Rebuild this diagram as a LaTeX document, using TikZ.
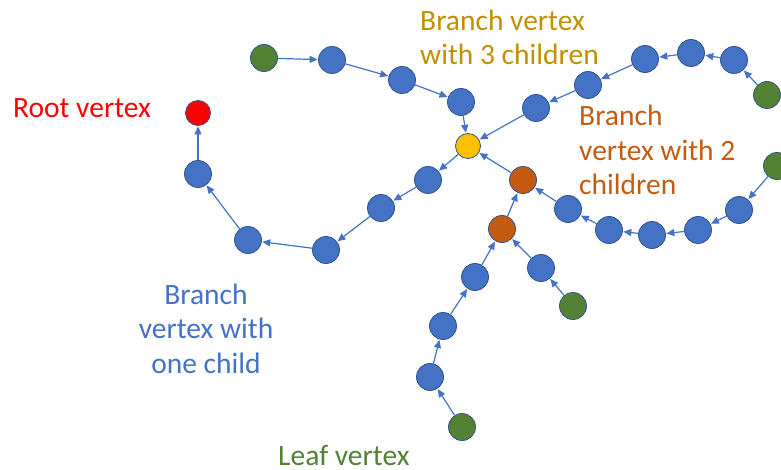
\documentclass[tikz,border=0pt]{standalone}
\usepackage{fontspec}
\setmainfont{Carlito}
\usetikzlibrary{arrows.meta}
\definecolor{vblue}{HTML}{4472C4}
\definecolor{vline}{HTML}{2F528F}
\definecolor{vgreen}{HTML}{548235}
\definecolor{vred}{HTML}{FF0000}
\definecolor{vyellow}{HTML}{FFC000}
\definecolor{vorange}{HTML}{C55A11}
\definecolor{vgold}{HTML}{BF9000}
\tikzset{
  vtx/.style={circle,draw=vline,line width=0.8pt,fill=vblue,minimum size=27pt,inner sep=0pt},
  leafv/.style={vtx,fill=vgreen},
  rootv/.style={vtx,fill=vred,minimum size=25pt},
  yelv/.style={vtx,fill=vyellow,minimum size=25pt},
  orav/.style={vtx,fill=vorange},
  edge/.style={draw=vblue,line width=1.2pt,-{Triangle[length=8pt,width=7pt]},shorten >=0.5pt},
  lbl/.style={font=\fontsize{29.5}{34.5}\selectfont,inner sep=0pt}
}
\begin{document}
\begin{tikzpicture}[x=1pt,y=-1pt]
\useasboundingbox (0,0) rectangle (781,470);
% nodes
\node[rootv] (root) at (198,113) {};
\node[vtx] (a1) at (198,174) {};
\node[vtx] (a2) at (248,240) {};
\node[vtx] (a3) at (326,250) {};
\node[vtx] (a4) at (381,208) {};
\node[vtx] (a5) at (428,180) {};
\node[yelv] (y) at (468,146) {};
\node[leafv] (l1) at (264,58) {};
\node[vtx] (t1) at (332,60) {};
\node[vtx] (t2) at (402,80) {};
\node[vtx] (t3) at (461,102) {};
\node[leafv] (l2) at (767,95) {};
\node[vtx] (r1) at (734,60) {};
\node[vtx] (r2) at (691,53) {};
\node[vtx] (r3) at (645,59) {};
\node[vtx] (r4) at (588,85) {};
\node[vtx] (r5) at (536,108) {};
\node[leafv] (l3) at (777,166) {};
\node[vtx] (s1) at (739,210) {};
\node[vtx] (s2) at (698,230) {};
\node[vtx] (s3) at (652,235) {};
\node[vtx] (s4) at (609,230) {};
\node[vtx] (s5) at (568,209) {};
\node[orav] (o1) at (523,180) {};
\node[orav] (o2) at (502,229) {};
\node[leafv] (l4) at (462,427) {};
\node[vtx] (b1) at (430,377) {};
\node[vtx] (b2) at (443,326) {};
\node[vtx] (b3) at (475,277) {};
\node[leafv] (l5) at (573,306) {};
\node[vtx] (b4) at (541,268) {};
% edges
\draw[edge] (l1) -- (t1);
\draw[edge] (t1) -- (t2);
\draw[edge] (t2) -- (t3);
\draw[edge] (t3) -- (y);
\draw[edge] (l2) -- (r1);
\draw[edge] (r1) -- (r2);
\draw[edge] (r2) -- (r3);
\draw[edge] (r3) -- (r4);
\draw[edge] (r4) -- (r5);
\draw[edge] (r5) -- (y);
\draw[edge] (l3) -- (s1);
\draw[edge] (s1) -- (s2);
\draw[edge] (s2) -- (s3);
\draw[edge] (s3) -- (s4);
\draw[edge] (s4) -- (s5);
\draw[edge] (s5) -- (o1);
\draw[edge] (o1) -- (y);
\draw[edge] (l4) -- (b1);
\draw[edge] (b1) -- (b2);
\draw[edge] (b2) -- (b3);
\draw[edge] (b3) -- (o2);
\draw[edge] (o2) -- (o1);
\draw[edge] (l5) -- (b4);
\draw[edge] (b4) -- (o2);
\draw[edge] (y) -- (a5);
\draw[edge] (a5) -- (a4);
\draw[edge] (a4) -- (a3);
\draw[edge] (a3) -- (a2);
\draw[edge] (a2) -- (a1);
\draw[edge] (a1) -- (root);
% labels
\node[lbl,text=vred,anchor=base west] (lroot) at (13,118) {Root vertex};
\node[lbl,text=vgold,anchor=base west,align=left] (lthree) at (420,65) {Branch vertex\\with 3 children};
\node[lbl,text=vorange,anchor=base west,align=left] (ltwo) at (579,195) {Branch\\vertex with 2\\children};
\node[lbl,text=vblue,anchor=base,align=center] (lone) at (206,373) {Branch\\vertex with\\one child};
\node[lbl,text=vgreen,anchor=base west] (lleaf) at (278,465) {Leaf vertex};
\end{tikzpicture}
\end{document}
